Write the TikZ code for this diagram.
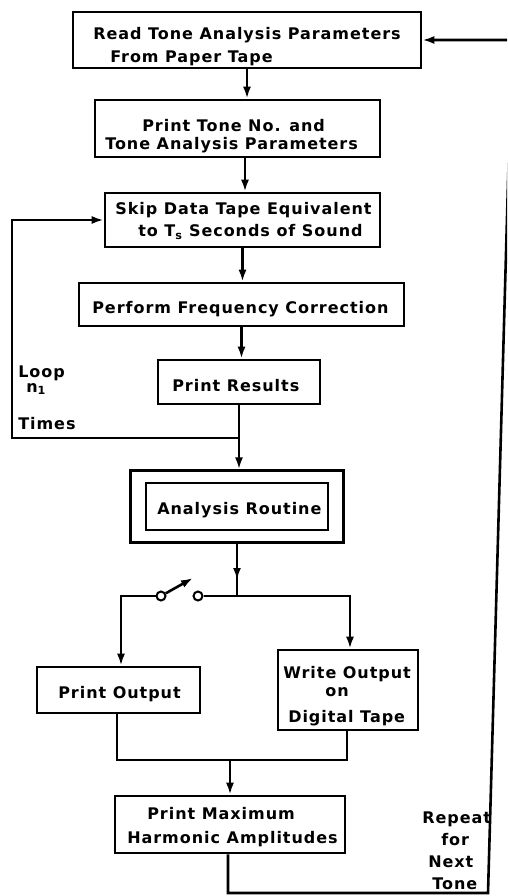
\documentclass[tikz,border=0pt]{standalone}
\usepackage{fontspec}
\usetikzlibrary{arrows.meta,fit}
\newfontfamily\lettering[LetterSpace=6]{DejaVu Sans Bold}
\begin{document}
\begin{tikzpicture}[x=1pt,y=-1pt,line width=2.6pt,
  txt/.style={font=\lettering\fontsize{16}{23}\selectfont},
  box/.style={draw,rectangle,inner sep=0pt},
  lbl/.style={inner sep=0pt,align=left,anchor=north west,txt},
  arr/.style={-{Latex[length=12pt,width=8pt]}},
  pin/.style={circle,draw,line width=2pt,minimum size=9pt,inner sep=0pt,fill=white}]
\useasboundingbox (0,0) rectangle (507,896);
\clip (0,0) rectangle (507,896);

% process boxes
\node[box,minimum width=348pt,minimum height=56pt] (read) at (247,40) {};
\node[box,minimum width=285pt,minimum height=57pt] (tone) at (237.5,128.5) {};
\node[box,minimum width=275pt,minimum height=54pt] (skip) at (242.5,220) {};
\node[box,minimum width=325pt,minimum height=43pt] (freq) at (241.5,304.5) {};
\node[box,minimum width=162pt,minimum height=44pt] (res) at (239,382) {};
\node[box,minimum width=182pt,minimum height=47pt] (anl) at (237,506.5) {};
\node[draw,fit=(anl),inner xsep=14pt,inner ysep=11pt] (anlbox) {};
\node[box,minimum width=163pt,minimum height=46pt] (pout) at (118.5,690) {};
\node[box,minimum width=140pt,minimum height=80pt] (wout) at (348,690) {};
\node[box,minimum width=230pt,minimum height=57pt] (pmax) at (230,824.5) {};

% box texts
\node[lbl] (readt) at (92,26) {Read Tone Analysis Parameters\\\hspace*{17pt}From Paper Tape};
\node[lbl,font=\lettering\fontsize{16}{18.5}\selectfont] (tonet) at (104,118)
  {\hspace*{37pt}Print Tone No. and\\Tone Analysis Parameters};
\node[lbl,font=\lettering\fontsize{16}{22}\selectfont] (skipt) at (114,201)
  {Skip Data Tape Equivalent\\\hspace*{23pt}to T\textsubscript{s} Seconds of Sound};
\node[lbl] (freqt) at (91,300) {Perform Frequency Correction};
\node[lbl] (rest) at (171,378) {Print Results};
\node[lbl] (anlt) at (156,501) {Analysis Routine};
\node[lbl] (poutt) at (57,685) {Print Output};
\node[lbl,font=\lettering\fontsize{16}{18}\selectfont] (woutt) at (282,665)
  {Write Output\\\hspace*{42pt}on\\[8pt]\hspace*{5pt}Digital Tape};
\node[lbl,font=\lettering\fontsize{16}{24}\selectfont] (pmaxt) at (126,806)
  {\hspace*{20pt}Print Maximum\\Harmonic Amplitudes};

% loop labels
\node[lbl] (looplbl) at (17,365) {Loop};
\node[lbl] (nlbl) at (25,382) {n\textsubscript{1}};
\node[lbl] (timeslbl) at (17,416) {Times};
\node[lbl,font=\lettering\fontsize{16}{21.7}\selectfont] (replbl) at (421,811)
  {Repeat\\\hspace*{19pt}for\\\hspace*{6pt}Next\\\hspace*{10pt}Tone};

% main flow
\draw[arr] (read.south) -- (read.south |- tone.north);
\draw[arr] ([xshift=7.5pt]tone.south) -- ([xshift=7.5pt]tone.south |- skip.north);
\draw[arr] (skip.south) -- (skip.south |- freq.north);
\draw[arr] (freq.south) -- (freq.south |- res.north);
\draw[arr] (res.south) -- (res.south |- anlbox.north);

% inner loop (n1 times)
\coordinate (j1) at (239,438);
\coordinate (lc) at (12,438);
\draw[arr] (j1) -- (lc) -- (lc |- skip.west) -- (skip.west);

% output switch
\coordinate (jn) at (237,596);
\coordinate (tipA) at (237,580);
\coordinate (jl) at (121,596);
\coordinate (jr) at (350,596);
\coordinate (arm) at (193,578);
\node[pin] (p1) at (161,596) {};
\node[pin] (p2) at (198,596) {};
\draw (anlbox.south) -- (jn);
\draw[arr] (anlbox.south) -- (tipA);
\draw (p2) -- (jn);
\draw[arr] (jn) -- (jr) -- (jr |- wout.north);
\draw[arr] (p1) -- (jl) -- (jl |- pout.north);
\draw[arr] (p1) -- (arm);

% merge
\coordinate (ml) at (117,760);
\coordinate (mr) at (347,760);
\coordinate (mm) at (230,760);
\draw (pout.south -| ml) -- (ml) -- (mr) -- (mr |- wout.south);
\draw[arr] (mm) -- (pmax.north);

% outer loop (next tone)
\coordinate (bl) at (228,893);
\coordinate (br) at (488,893);
\coordinate (tr) at (512,40);
\draw[arr] (pmax.south -| bl) -- (bl) -- (br) -- (tr) -- (read.east);
\end{tikzpicture}
\end{document}
